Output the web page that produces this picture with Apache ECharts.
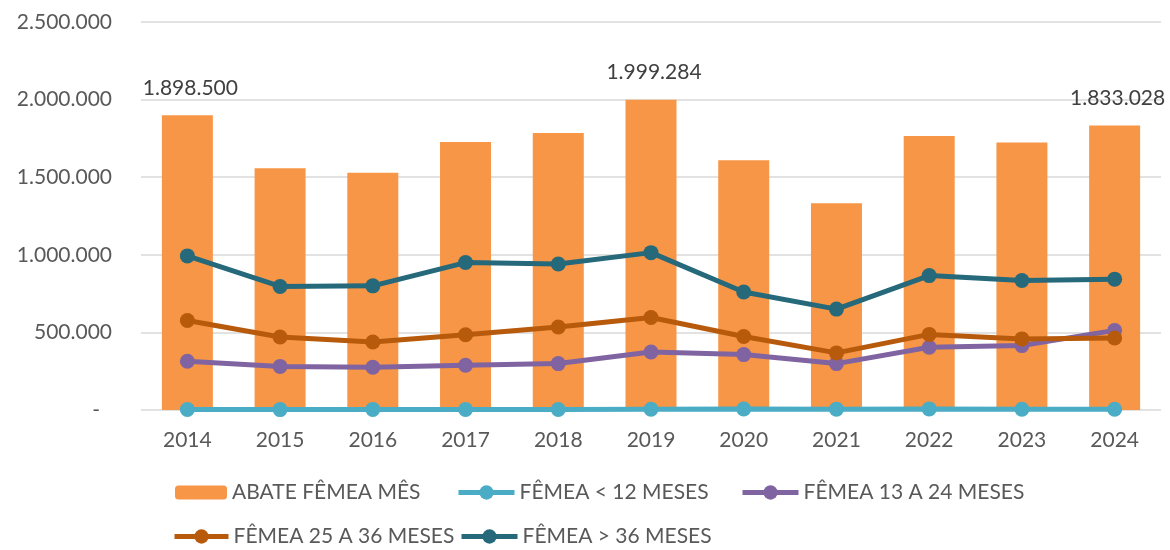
<!DOCTYPE html>
<html>
<head>
<meta charset="utf-8">
<script src="https://cdn.jsdelivr.net/npm/echarts@6/dist/echarts.min.js"></script>
<style>html,body{margin:0;padding:0;background:#fff}#c{width:1170px;height:550px}</style>
</head>
<body>
<div id="c"></div>
<script>
const years = ['2014','2015','2016','2017','2018','2019','2020','2021','2022','2023','2024'];
const abateFemea = [1898500, 1557000, 1528000, 1727000, 1785000, 1999284, 1610000, 1332000, 1766000, 1724000, 1833028];
const femeaMenos12 = [3000, 2500, 4000, 2800, 3500, 5000, 6000, 5500, 7000, 5000, 4500];
const femea13a24 = [314000, 281000, 275000, 288000, 299000, 374000, 357000, 299000, 404000, 415000, 513000];
const femea25a36 = [577000, 470000, 438000, 485000, 535000, 596000, 474000, 368000, 487000, 458000, 464000];
const femeaMais36 = [993000, 796000, 800000, 950000, 941000, 1014000, 760000, 650000, 866000, 834000, 843000];
const labeledYears = ['2014', '2019', '2024'];
const names = ['ABATE FÊMEA MÊS', 'FÊMEA < 12 MESES', 'FÊMEA 13 A 24 MESES', 'FÊMEA 25 A 36 MESES', 'FÊMEA > 36 MESES'];

const FONT = 'Lato';
function fmt(v) {
  return String(Math.round(v)).replace(/\B(?=(\d{3})+(?!\d))/g, '.');
}
const chart = echarts.init(document.getElementById('c'), null, {renderer: 'canvas'});

const barData = abateFemea.map((v, i) => {
  if (labeledYears.indexOf(years[i]) >= 0) {
    return {value: v, label: {show: true, position: 'top', distance: 17, offset: [3, 0],
      formatter: p => fmt(p.value), color: '#404040', fontSize: 21, fontFamily: FONT}};
  }
  return v;
});

function lineSeries(name, data, color) {
  return {
    name: name, type: 'line', data: data,
    symbol: 'circle', symbolSize: 15,
    lineStyle: {color: color, width: 5},
    itemStyle: {color: color},
    z: 3
  };
}

const legendBase = {
  textStyle: {fontFamily: FONT, fontSize: 21, color: '#595959'},
  itemHeight: 18, padding: 0,
  lineStyle: {width: 5}
};

chart.setOption({
  animation: false,
  backgroundColor: '#fff',
  textStyle: {fontFamily: FONT},
  grid: {left: 141, right: 9, top: 22, bottom: 140},
  xAxis: {
    type: 'category', data: years,
    axisLine: {show: false}, axisTick: {show: false},
    axisLabel: {fontFamily: FONT, fontSize: 21, color: '#595959', margin: 20}
  },
  yAxis: {
    type: 'value', min: 0, max: 2500000, interval: 500000,
    axisLine: {show: false}, axisTick: {show: false},
    splitLine: {lineStyle: {color: '#d9d9d9', width: 1.5}},
    axisLabel: {
      fontFamily: FONT, fontSize: 21, color: '#595959', margin: 29,
      formatter: v => v === 0 ? '{z|-}' : fmt(v),
      rich: {z: {fontFamily: FONT, fontSize: 21, color: '#595959', padding: [0, 12, 0, 0]}}
    }
  },
  legend: [
    Object.assign({}, legendBase, {data: [names[0]], left: 175, top: 482, itemWidth: 52, itemHeight: 14}),
    Object.assign({}, legendBase, {data: [names[1]], left: 456, top: 482, itemWidth: 56}),
    Object.assign({}, legendBase, {data: [names[2]], left: 740, top: 482, itemWidth: 56}),
    Object.assign({}, legendBase, {data: [names[3]], left: 172, top: 526, itemWidth: 54}),
    Object.assign({}, legendBase, {data: [names[4]], left: 459, top: 526, itemWidth: 56})
  ],
  series: [
    {name: names[0], type: 'bar', data: barData, barWidth: 51,
      itemStyle: {color: '#F79646'}, z: 2},
    lineSeries(names[1], femeaMenos12, '#4BACC6'),
    lineSeries(names[2], femea13a24, '#8064A2'),
    lineSeries(names[3], femea25a36, '#B85A0C'),
    lineSeries(names[4], femeaMais36, '#26697B')
  ]
});
</script>
</body>
</html>
